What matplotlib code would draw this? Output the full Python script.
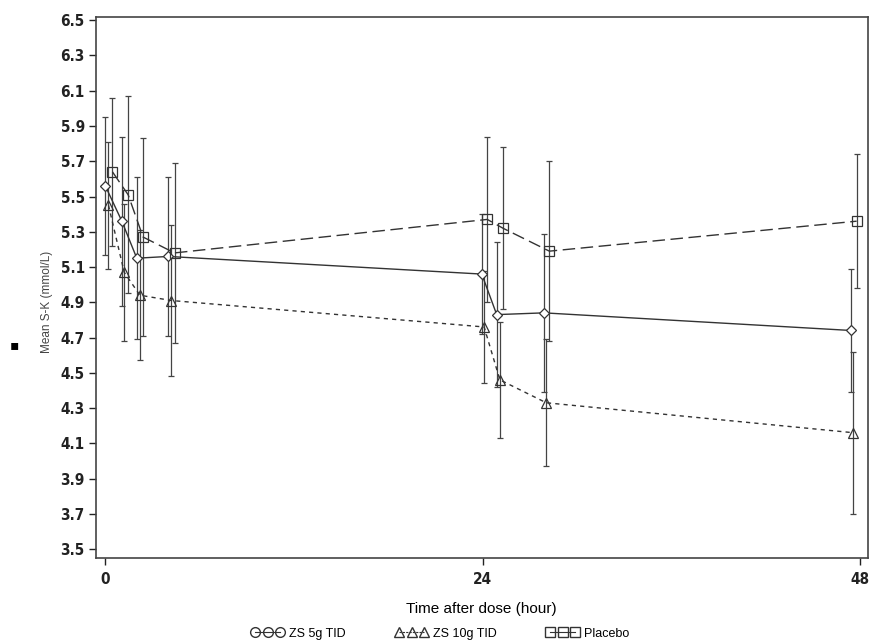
import numpy as np
import matplotlib
matplotlib.use('Agg')
import matplotlib.pyplot as plt
from matplotlib.lines import Line2D

# nominal sampling times (hour) and plotted times per group
tick_hours = [0, 24, 48]
t_5g = [0.0, 1.05, 2.0, 4.0, 23.95, 24.9, 27.9, 47.45]
t_10g = [0.2, 1.2, 2.2, 4.2, 24.1, 25.1, 28.05, 47.6]
t_pbo = [0.45, 1.45, 2.4, 4.4, 24.3, 25.3, 28.25, 47.8]

# mean S-K (mmol/L) and half width of error bar
mean_5g = [5.56, 5.36, 5.15, 5.16, 5.06, 4.83, 4.84, 4.74]
err_5g = [0.39, 0.48, 0.46, 0.45, 0.34, 0.41, 0.45, 0.35]
mean_10g = [5.45, 5.07, 4.94, 4.91, 4.76, 4.46, 4.33, 4.16]
err_10g = [0.36, 0.39, 0.37, 0.43, 0.32, 0.33, 0.36, 0.46]
mean_pbo = [5.64, 5.51, 5.27, 5.18, 5.37, 5.32, 5.19, 5.36]
err_pbo = [0.42, 0.56, 0.56, 0.51, 0.47, 0.46, 0.51, 0.38]

yticks = np.round(np.arange(3.5, 6.51, 0.2), 1)

fig = plt.figure(figsize=(8.72, 6.42), dpi=100)
ax = fig.add_axes([0.110, 0.131, 0.885, 0.843])

c = '#333333'
ec = '#444444'
ax.errorbar(t_5g, mean_5g, yerr=err_5g, color=c, ls='-', lw=1.0,
            marker='D', ms=5.5, mfc='white', mec=c, mew=0.9,
            ecolor=ec, elinewidth=0.9, capsize=2.5, capthick=1.0)
ax.errorbar(t_10g, mean_10g, yerr=err_10g, color=c, ls=(0, (3, 3)), lw=1.0,
            marker='^', ms=7, mfc='none', mec=c, mew=0.9,
            ecolor=ec, elinewidth=0.9, capsize=2.5, capthick=1.0)
ax.errorbar(t_pbo, mean_pbo, yerr=err_pbo, color=c, ls=(0, (9, 4)), lw=1.0,
            marker='s', ms=7, mfc='none', mec=c, mew=0.9,
            ecolor=ec, elinewidth=0.9, capsize=2.5, capthick=1.0)

ax.set_xlim(-0.6, 48.5)
ax.set_ylim(3.45, 6.52)
ax.set_xticks(tick_hours)
ax.set_yticks(yticks)
ax.set_yticklabels(['%.1f' % v for v in yticks])
for lab in ax.get_xticklabels() + ax.get_yticklabels():
    lab.set_fontfamily('DejaVu Sans')
    lab.set_fontstretch('condensed')
    lab.set_fontweight('semibold')
    lab.set_fontsize(11)
    lab.set_color('#222222')
ax.tick_params(direction='out', length=5, width=1, colors='#222222', pad=3)
ax.tick_params(axis='x', pad=5)
for s in ax.spines.values():
    s.set_color('#444444')
    s.set_linewidth(1.2)

ax.set_xlabel('Time after dose (hour)', fontsize=11, labelpad=11,
              family=['Liberation Sans', 'DejaVu Sans'])
fig.text(0.054, 0.53, 'Mean S-K (mmol/L)', rotation=90, ha='center', va='center',
         fontsize=8.5, color='#444444', family=['Liberation Sans', 'DejaVu Sans'])
fig.text(0.017, 0.462, '\u25aa', ha='center', va='center', fontsize=10)

handles = [
    Line2D([], [], color=c, ls='-', lw=0.8, marker='o', ms=7, mfc='none', mec=c),
    Line2D([], [], color=c, ls=(0, (2, 1)), lw=0.8, marker='^', ms=7, mfc='none', mec=c),
    Line2D([], [], color=c, ls='-', lw=0.8, marker='s', ms=7, mfc='none', mec=c),
]
fig.legend(handles, ['ZS 5g TID', 'ZS 10g TID', 'Placebo'], loc='center',
           bbox_to_anchor=(0.505, 0.013), ncol=3, frameon=False, numpoints=3,
           handlelength=2.6, columnspacing=4.0, handletextpad=0.4,
           prop=dict(family=['Liberation Sans', 'DejaVu Sans'], size=9))

plt.savefig('out.png', dpi=100)
